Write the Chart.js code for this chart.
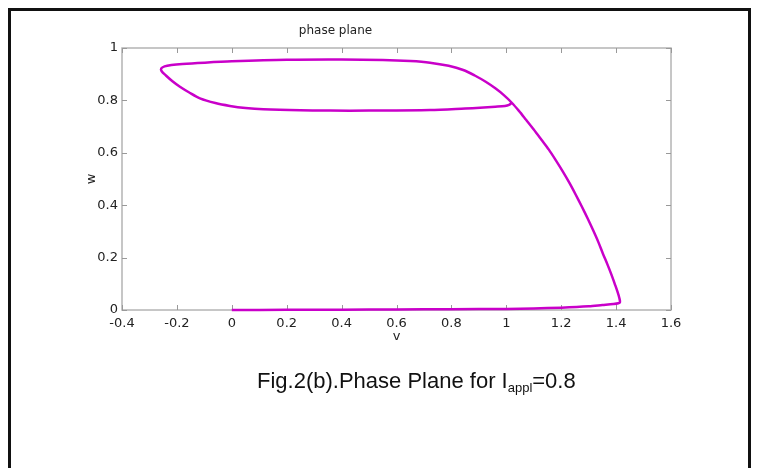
<!DOCTYPE html>
<html>
<head>
<meta charset="utf-8">
<script src="https://cdn.jsdelivr.net/npm/chart.js@4"></script>
<style>
  html, body { margin: 0; padding: 0; background: #fff; }
  body { width: 762px; height: 468px; position: relative; overflow: hidden; }
  #phaseChart { position: absolute; left: 0; top: 0; }
  .frame {
    position: absolute; left: 8px; top: 8px; width: 737px; height: 520px;
    border: 3px solid #111; pointer-events: none;
  }
  .caption {
    position: absolute; left: 257px; top: 370px;
    font-family: "Liberation Sans", Arial, sans-serif; font-size: 22px; line-height: 1;
    color: #111; white-space: nowrap;
  }
  .caption sub { font-size: 13px; vertical-align: -4px; }
</style>
</head>
<body>
<canvas id="phaseChart" width="762" height="468"></canvas>
<div class="frame"></div>
<div class="caption">Fig.2(b).Phase Plane for I<sub>appl</sub>=0.8</div>

<script>
// trajectory in the (v, w) plane: along w=0, up the right branch, then the loop
const vData = [
  0, 0.2, 0.4, 0.6, 0.8, 1.0, 1.1, 1.2, 1.3, 1.35, 1.39, 1.408, 1.414,
  1.412, 1.405, 1.395, 1.383, 1.368, 1.352, 1.335, 1.316, 1.296, 1.275, 1.253, 1.23,
  1.205, 1.18, 1.155, 1.128, 1.1, 1.072, 1.046, 1.02,
  0.99, 0.96, 0.925, 0.885, 0.843, 0.79, 0.722, 0.65, 0.55, 0.4, 0.2, 0.0, -0.1, -0.18, -0.22, -0.245,
  -0.257, -0.256, -0.24, -0.215, -0.189, -0.155, -0.116, -0.06, -0.007, 0.05, 0.115, 0.25,
  0.358, 0.5, 0.722, 0.85, 0.904, 0.96, 0.995, 1.01, 1.02
];
const wData = [
  0, 0.0005, 0.001, 0.002, 0.003, 0.004, 0.006, 0.009, 0.014, 0.019, 0.023, 0.026, 0.03,
  0.045, 0.07, 0.1, 0.135, 0.175, 0.215, 0.26, 0.305, 0.35, 0.395, 0.44, 0.485,
  0.53, 0.572, 0.612, 0.65, 0.689, 0.726, 0.76, 0.791,
  0.821, 0.846, 0.871, 0.895, 0.916, 0.932, 0.944, 0.95, 0.954, 0.956, 0.955, 0.949, 0.944, 0.939, 0.935, 0.93,
  0.922, 0.912, 0.895, 0.872, 0.852, 0.83, 0.808, 0.79, 0.779, 0.771, 0.766, 0.762,
  0.761, 0.761, 0.763, 0.769, 0.772, 0.776, 0.779, 0.783, 0.791
];

const xTickLabels = ["-0.4", "-0.2", "0", "0.2", "0.4", "0.6", "0.8", "1", "1.2", "1.4", "1.6"];
const yTickLabels = ["0", "0.2", "0.4", "0.6", "0.8", "1"];

const points = vData.map((v, i) => ({ x: v, y: wData[i] }));

const axisFont = { family: "DejaVu Sans", size: 13 };

// box around the plot with small inward ticks on all four sides
const boxTicks = {
  id: "boxTicks",
  beforeDatasetsDraw(chart) {
    const { ctx, chartArea: a, scales } = chart;
    ctx.save();
    ctx.strokeStyle = "#b4b4b4";
    ctx.lineWidth = 1.5;
    ctx.strokeRect(a.left, a.top, a.right - a.left, a.bottom - a.top);
    ctx.strokeStyle = "#999";
    ctx.lineWidth = 1;
    ctx.beginPath();
    scales.x.ticks.forEach((t) => {
      const px = Math.round(scales.x.getPixelForValue(t.value)) + 0.5;
      ctx.moveTo(px, a.bottom); ctx.lineTo(px, a.bottom - 5);
      ctx.moveTo(px, a.top); ctx.lineTo(px, a.top + 5);
    });
    scales.y.ticks.forEach((t) => {
      const py = Math.round(scales.y.getPixelForValue(t.value)) + 0.5;
      ctx.moveTo(a.left, py); ctx.lineTo(a.left + 5, py);
      ctx.moveTo(a.right, py); ctx.lineTo(a.right - 5, py);
    });
    ctx.stroke();
    ctx.restore();
  },
};

new Chart(document.getElementById("phaseChart"), {
  type: "scatter",
  data: {
    datasets: [
      {
        data: points,
        showLine: true,
        borderColor: "#c900c9",
        borderWidth: 2.5,
        pointRadius: 0,
        tension: 0.3,
        fill: false,
        clip: false,
      },
    ],
  },
  options: {
    responsive: false,
    animation: false,
    layout: { padding: { left: 0, top: 24, right: 91, bottom: 118 } },
    plugins: {
      legend: { display: false },
      tooltip: { enabled: false },
      title: {
        display: true,
        text: "phase plane",
        color: "#222",
        font: { family: "DejaVu Sans", size: 12, weight: "normal" },
        padding: { top: 0, bottom: 9.6 },
      },
    },
    scales: {
      x: {
        type: "linear",
        min: -0.4,
        max: 1.6,
        ticks: {
          stepSize: 0.2,
          color: "#222",
          font: axisFont,
          padding: 6,
          maxRotation: 0,
          callback: (val, i) => xTickLabels[i],
        },
        grid: { display: false, drawTicks: false },
        border: { display: false },
        title: {
          display: true,
          text: "v",
          color: "#222",
          font: axisFont,
          padding: { top: 0, bottom: 6 },
        },
        afterFit: (s) => { s.height = 40; },
      },
      y: {
        type: "linear",
        min: 0,
        max: 1,
        ticks: {
          stepSize: 0.2,
          color: "#222",
          font: axisFont,
          padding: 4,
          callback: (val, i) => yTickLabels[i],
        },
        grid: { display: false, drawTicks: false },
        border: { display: false },
        title: {
          display: true,
          text: "w",
          color: "#222",
          font: axisFont,
          padding: { top: 84, bottom: 0 },
        },
        afterFit: (s) => { s.width = 122; },
      },
    },
  },
  plugins: [boxTicks],
});
</script>
</body>
</html>
